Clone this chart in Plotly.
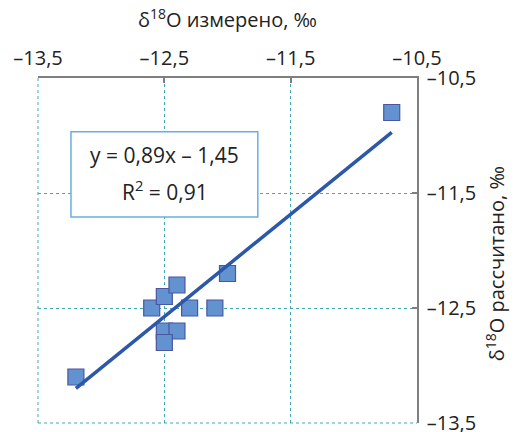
import plotly.graph_objects as go

# Measured vs calculated δ18O values (‰)
x_measured = [-13.2, -12.6, -12.5, -12.4, -12.3, -12.1, -12.0, -12.5, -12.4, -12.5, -10.7]
y_calculated = [-13.1, -12.5, -12.4, -12.3, -12.5, -12.5, -12.2, -12.7, -12.7, -12.8, -10.8]

# Linear regression reported on the chart
slope = 0.89
intercept = -1.45
r_squared = 0.91

tick_vals = [-13.5, -12.5, -11.5, -10.5]
tick_text = ["–13,5", "–12,5", "–11,5", "–10,5"]


def fmt(v):
    return f"{v:.2f}".replace(".", ",")


x_fit = [min(x_measured), max(x_measured)]
y_fit = [slope * v + intercept for v in x_fit]

FONT = "Open Sans"
GRID = "#3fa9b5"
AXIS = "#7f7f7f"
TEXT = "#222222"

fig = go.Figure()

fig.add_trace(go.Scatter(
    x=x_measured, y=y_calculated, mode="markers",
    marker=dict(symbol="square", size=16, color="#6392d0",
                line=dict(color="#4a56a0", width=1.2)),
    showlegend=False,
))

fig.add_trace(go.Scatter(
    x=x_fit, y=y_fit, mode="lines",
    line=dict(color="#2b58a8", width=3.5),
    showlegend=False,
))

axis_common = dict(
    range=[-13.5, -10.5],
    tickvals=tick_vals, ticktext=tick_text,
    showgrid=True, gridcolor=GRID, griddash="dot", gridwidth=1,
    showline=True, linecolor=AXIS, linewidth=1.5,
    ticks="inside", ticklen=5, tickcolor=AXIS, tickwidth=1.5,
    tickfont=dict(family=FONT, size=20, color=TEXT),
    ticklabeloverflow="allow",
    automargin=False,
    zeroline=False,
)

fig.update_layout(
    width=518, height=432,
    margin=dict(l=38, r=101, t=78, b=9),
    paper_bgcolor="white", plot_bgcolor="white",
    font=dict(family=FONT, color=TEXT),
    xaxis=dict(side="top", ticklabelstandoff=3, **axis_common),
    yaxis=dict(side="right", ticklabelstandoff=4, **axis_common),
)

# Left and bottom frame edges drawn as dotted lines
fig.add_shape(type="line", xref="paper", yref="paper", x0=0, x1=0, y0=0, y1=1,
              line=dict(color=GRID, width=1, dash="dot"))
fig.add_shape(type="line", xref="paper", yref="paper", x0=0, x1=1, y0=0, y1=0,
              line=dict(color=GRID, width=1, dash="dot"))

# Axis titles
fig.add_annotation(text="δ<sup>18</sup>O измерено, ‰", xref="paper", yref="paper",
                   x=0.5, y=1, yshift=60, xanchor="center", yanchor="middle",
                   showarrow=False, font=dict(family=FONT, size=20, color=TEXT))
fig.add_annotation(text="δ<sup>18</sup>O рассчитано, ‰", xref="paper", yref="paper",
                   x=1, xshift=78, y=0.46, xanchor="center", yanchor="middle",
                   textangle=-90, showarrow=False,
                   font=dict(family=FONT, size=20, color=TEXT))

# Regression equation box
fig.add_shape(type="rect", xref="paper", yref="paper",
              x0=0.087, x1=0.580, y0=0.597, y1=0.844,
              line=dict(color="#6aaedf", width=1.5), fillcolor="white")
fig.add_annotation(text=f"y = {fmt(slope)}x – {fmt(abs(intercept))}",
                   xref="paper", yref="paper", x=0.334, y=0.777,
                   xanchor="center", yanchor="middle", showarrow=False,
                   font=dict(family=FONT, size=21, color=TEXT))
fig.add_annotation(text=f"R<sup>2</sup> = {fmt(r_squared)}",
                   xref="paper", yref="paper", x=0.334, y=0.675,
                   xanchor="center", yanchor="middle", showarrow=False,
                   font=dict(family=FONT, size=21, color=TEXT))

fig.write_html("out.html")
